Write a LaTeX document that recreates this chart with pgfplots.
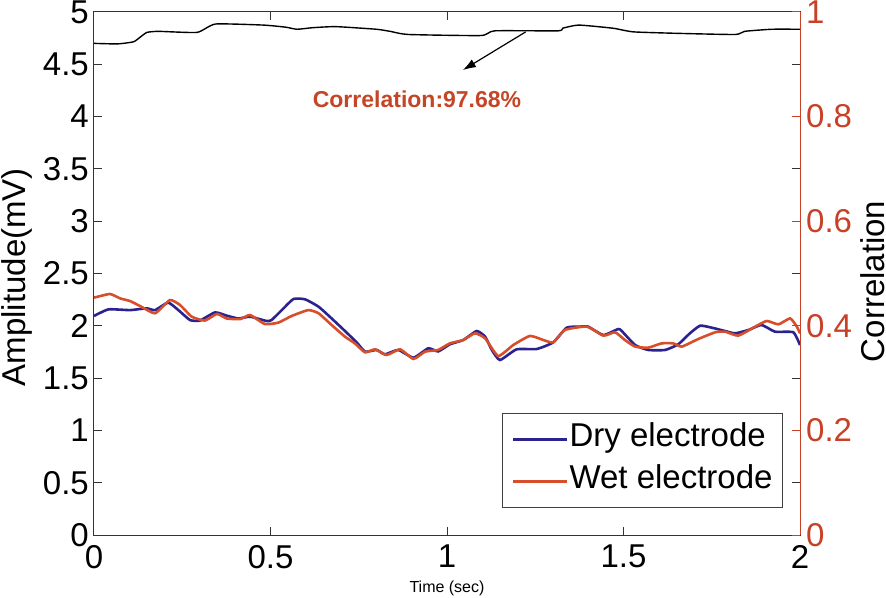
\documentclass[border=0pt]{standalone}
\usepackage{fontspec}
\setmainfont{Liberation Sans}
\usepackage{pgfplots}
\pgfplotsset{compat=1.18}
\usetikzlibrary{arrows.meta}

\definecolor{dryblue}{RGB}{42,34,142}
\definecolor{wetred}{RGB}{214,78,42}
\definecolor{axred}{RGB}{200,64,38}
\definecolor{txtred}{RGB}{196,70,38}

\newcommand{\bigfont}{\fontsize{33}{40}\selectfont}

\begin{document}
\begin{tikzpicture}
\useasboundingbox (-94pt,-62pt) rectangle (792pt,535pt);
\begin{axis}[
  at={(0,0)}, anchor=south west,
  width=706pt, height=523pt, scale only axis,
  xmin=0, xmax=2, ymin=0, ymax=5,
  xtick={0,0.5,1,1.5,2},
  ytick={0,0.5,1,1.5,2,2.5,3,3.5,4,4.5,5},
  tick align=inside, major tick length=8pt,
  axis line style={draw=black!80, line width=1pt},
  every tick/.style={draw=black!80, line width=1pt},
  /pgf/number format/assume math mode=true,
  tick label style={font=\bigfont},
  xticklabel style={inner sep=0pt, yshift=-10pt},
  yticklabel style={inner sep=0pt, xshift=-5pt},
  xlabel={Time (sec)},
  xlabel style={at={(axis description cs:0.5,0)}, anchor=north, inner sep=0pt,
    yshift=-46pt, font=\fontsize{16}{19}\selectfont},
  ylabel={Amplitude(mV)},
  ylabel style={at={(axis description cs:-0.131,0.493)}, anchor=north,
    inner sep=0pt, font=\bigfont},
  legend style={at={(0.976,0.233)}, anchor=north east, font=\bigfont,
    draw=black!75, line width=1pt, inner xsep=9pt, inner ysep=5pt,
    nodes={inner sep=1pt, text height=27pt, text depth=13pt}},
  legend cell align=left,
  legend image code/.code={\draw[#1, line width=2pt] (0pt,0pt) -- (48pt,0pt);
    \path (0pt,0pt) -- (54pt,0pt);},
]
\addplot[dryblue, line width=2.6pt, smooth, tension=0.3] coordinates {
(0,2.094) (0.041,2.157) (0.102,2.15) (0.149,2.167) (0.173,2.15) (0.21,2.222)
(0.239,2.15) (0.272,2.055) (0.30,2.05) (0.343,2.128) (0.376,2.097) (0.409,2.07)
(0.442,2.087) (0.489,2.046) (0.503,2.055) (0.532,2.15) (0.565,2.256) (0.598,2.253)
(0.636,2.183) (0.673,2.071) (0.711,1.950) (0.744,1.842) (0.768,1.753) (0.801,1.769)
(0.824,1.727) (0.862,1.769) (0.905,1.695) (0.947,1.785) (0.975,1.755) (1.008,1.823)
(1.046,1.864) (1.084,1.95) (1.108,1.896) (1.127,1.769) (1.15,1.673) (1.197,1.775)
(1.254,1.778) (1.301,1.842) (1.339,1.982) (1.377,1.992) (1.40,1.992) (1.443,1.912)
(1.485,1.969) (1.495,1.95) (1.533,1.816) (1.57,1.769) (1.618,1.769) (1.655,1.823)
(1.688,1.928) (1.717,2.001) (1.75,1.982) (1.788,1.95) (1.816,1.928) (1.854,1.96)
(1.891,2.008) (1.929,1.944) (1.981,1.938) (2.0,1.816)
};
\addlegendentry{Dry electrode}
\addplot[wetred, line width=2.6pt, smooth, tension=0.3] coordinates {
(0,2.269) (0.045,2.304) (0.074,2.262) (0.102,2.237) (0.13,2.19) (0.173,2.12)
(0.215,2.246) (0.244,2.198) (0.277,2.087) (0.314,2.05) (0.348,2.113) (0.376,2.07)
(0.414,2.064) (0.442,2.103) (0.484,2.017) (0.522,2.03) (0.56,2.094) (0.607,2.15)
(0.636,2.12) (0.673,2.008) (0.711,1.896) (0.739,1.832) (0.768,1.746) (0.796,1.775)
(0.829,1.721) (0.867,1.775) (0.905,1.683) (0.938,1.753) (0.975,1.769) (1.008,1.832)
(1.046,1.864) (1.079,1.928) (1.108,1.880) (1.145,1.711) (1.188,1.817) (1.235,1.903)
(1.273,1.864) (1.301,1.842) (1.334,1.96) (1.396,1.992) (1.443,1.906) (1.476,1.938)
(1.504,1.864) (1.533,1.801) (1.57,1.791) (1.608,1.832) (1.641,1.832) (1.665,1.801)
(1.712,1.874) (1.76,1.938) (1.788,1.944) (1.825,1.906) (1.873,1.992) (1.906,2.046)
(1.939,2.014) (1.972,2.071) (1.991,1.992) (2.0,1.928)
};
\addlegendentry{Wet electrode}
\draw[black, line width=1.2pt, -{Latex[length=13pt,width=9pt]}]
  (axis cs:1.223,4.81) -- (axis cs:1.045,4.445);
\node[text=txtred, font=\fontsize{23}{27}\selectfont\bfseries, inner sep=0pt]
  at (axis cs:0.915,4.165) {Correlation:97.68\%};
\end{axis}
\begin{axis}[
  at={(0,0)}, anchor=south west,
  width=706pt, height=523pt, scale only axis,
  xmin=0, xmax=2, ymin=0, ymax=1,
  axis x line=none, axis y line*=right,
  ytick={0,0.2,0.4,0.6,0.8,1},
  tick align=inside, major tick length=8pt,
  y axis line style={draw=axred, line width=1pt},
  every tick/.style={draw=axred, line width=1pt},
  /pgf/number format/assume math mode=true,
  yticklabel style={font=\bigfont, text=axred, inner sep=0pt, xshift=6pt},
  ylabel={Correlation},
  ylabel style={at={(axis description cs:1.086,0.485)}, anchor=north,
    inner sep=0pt, font=\bigfont},
]
\addplot[black, line width=1.4pt, smooth, tension=0.3] coordinates {
(0,0.94) (0.067,0.939) (0.112,0.943) (0.131,0.952) (0.15,0.961) (0.183,0.963)
(0.292,0.961) (0.344,0.977) (0.479,0.975) (0.543,0.971) (0.575,0.967) (0.62,0.970)
(0.685,0.972) (0.80,0.967) (0.839,0.963) (0.89,0.957) (1.096,0.955) (1.135,0.964)
(1.315,0.964) (1.328,0.969) (1.373,0.975) (1.47,0.969) (1.528,0.962) (1.663,0.959)
(1.817,0.957) (1.843,0.963) (1.92,0.967) (2.0,0.967)
};
\end{axis}
\end{tikzpicture}
\end{document}
